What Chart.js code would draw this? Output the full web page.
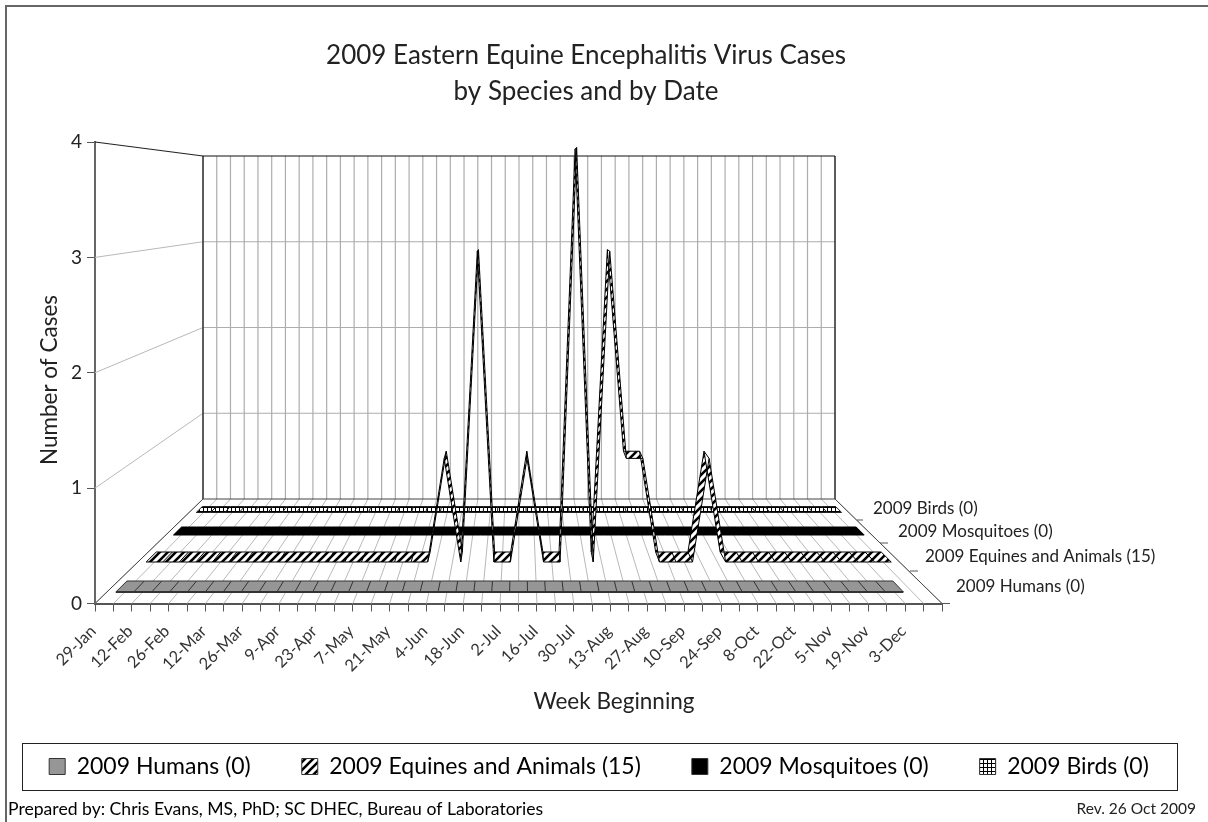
<!DOCTYPE html>
<html>
<head>
<meta charset="utf-8">
<title>2009 Eastern Equine Encephalitis Virus Cases</title>
<script src="https://cdn.jsdelivr.net/npm/chart.js@4/dist/chart.umd.js"></script>
<style>
  html, body { margin: 0; padding: 0; background: #fff; }
  canvas { display: block; }
</style>
</head>
<body>
<canvas id="grafico" width="1208" height="822"></canvas>
<script>
const weeks = ['29-Jan','5-Feb','12-Feb','19-Feb','26-Feb','5-Mar','12-Mar','19-Mar','26-Mar','2-Apr','9-Apr','16-Apr',
  '23-Apr','30-Apr','7-May','14-May','21-May','28-May','4-Jun','11-Jun','18-Jun','25-Jun','2-Jul','9-Jul','16-Jul',
  '23-Jul','30-Jul','6-Aug','13-Aug','20-Aug','27-Aug','3-Sep','10-Sep','17-Sep','24-Sep','1-Oct','8-Oct','15-Oct',
  '22-Oct','29-Oct','5-Nov','12-Nov','19-Nov','26-Nov','3-Dec','10-Dec'];

const humans = [0,0,0,0,0,0,0,0,0,0,0,0,0,0,0,0,0,0,0,0,0,0,0,0,0,0,0,0,0,0,0,0,0,0,0,0,0,0,0,0,0,0,0,0,0];
const equines = [0,0,0,0,0,0,0,0,0,0,0,0,0,0,0,0,0,0,1,0,3,0,0,1,0,0,4,0,3,1,1,0,0,0,1,0,0,0,0,0,0,0,0,0,0,0];
const mosquitoes = [0,0,0,0,0,0,0,0,0,0,0,0,0,0,0,0,0,0,0,0,0,0,0,0,0,0,0,0,0,0,0,0,0,0,0,0,0,0,0,0,0,0,0,0,0,0];
const birds = [0,0,0,0,0,0,0,0,0,0,0,0,0,0,0,0,0,0,0,0,0,0,0,0,0,0,0,0,0,0,0,0,0,0,0,0,0,0,0,0,0,0,0,0,0,0];

const seriesNames = ['2009 Humans (0)', '2009 Equines and Animals (15)', '2009 Mosquitoes (0)', '2009 Birds (0)'];
const yTicks = [0, 1, 2, 3, 4];

const FONT = 'Lato, "Open Sans", sans-serif';

// floor of the 3d box
const FRONT_Y = 603.5, BACK_Y = 499, TOP_FRONT = 142, TOP_BACK = 156;
const FRONT_L = 95, FRONT_R = 942, BACK_L = 203, BACK_R = 835;
const VANISH_Y = 196.4;

function floorLeft(y) { return FRONT_L + (FRONT_Y - y) * (BACK_L - FRONT_L) / (FRONT_Y - BACK_Y); }
function floorRight(y) { return FRONT_R - (FRONT_Y - y) * (FRONT_R - BACK_R) / (FRONT_Y - BACK_Y); }
function plotHeight(y) { return (FRONT_Y - TOP_FRONT) * (y - VANISH_Y) / (FRONT_Y - VANISH_Y); }

function makePattern(size, draw) {
  const c = document.createElement('canvas');
  c.width = c.height = size;
  const g = c.getContext('2d');
  g.fillStyle = '#fff';
  g.fillRect(0, 0, size, size);
  draw(g);
  return g.createPattern(c, 'repeat');
}

const hatch = makePattern(8, g => {
  g.strokeStyle = '#000';
  g.lineWidth = 2.6;
  g.beginPath();
  g.moveTo(-2, 10); g.lineTo(10, -2);
  g.moveTo(-6, 6); g.lineTo(6, -6);
  g.moveTo(2, 14); g.lineTo(14, 2);
  g.stroke();
});

const gridPattern = makePattern(4, g => {
  g.fillStyle = '#000';
  g.fillRect(0, 3, 4, 1);
  g.fillRect(3, 0, 1, 4);
});

const fills = ['#969696', hatch, '#000000', gridPattern];
const values = [humans, equines, mosquitoes, birds];
// y of the [front, back] edge of each ribbon on the floor
const edges = [[592, 581], [562, 552], [535, 527], [512.5, 506.5]];
const edgeColors = ['#333', '#000', '#000', '#222'];

const datasets = [];
const scales = {
  x: {
    type: 'category', position: 'bottom', offset: true,
    grid: { offset: true, drawOnChartArea: false, tickLength: 8, color: '#555' },
    border: { color: '#555', width: 2 },
    ticks: {
      autoSkip: false, minRotation: 45, maxRotation: 45, padding: 10, labelOffset: -11,
      color: '#333', font: { family: FONT, size: 16.5 },
      callback(v, i) { return i % 2 === 0 ? weeks[i] : ''; }
    }
  },
  y: {
    type: 'linear', position: 'left', min: 0, max: 4,
    afterBuildTicks(axis) { axis.ticks = yTicks.map(value => ({ value })); },
    grid: { drawOnChartArea: false, tickLength: 8, color: '#555' },
    border: { color: '#666', width: 2 },
    ticks: { padding: 5, color: '#222', font: { family: FONT, size: 19 } }
  },
  xWall: { type: 'category', position: 'bottom', offset: true, display: false },
  yWall: { type: 'linear', position: 'left', min: 0, max: 4, display: false }
};

seriesNames.forEach((name, i) => {
  ['Back', 'Front'].forEach(side => {
    const xId = 'x' + side + i, yId = 'y' + side + i;
    scales[xId] = { type: 'category', position: 'bottom', offset: true, display: false };
    scales[yId] = { type: 'linear', position: 'left', min: 0, max: 4, display: false };
    datasets.push({
      label: name,
      side,
      series: i,
      data: values[i],
      xAxisID: xId,
      yAxisID: yId,
      borderColor: edgeColors[i],
      borderWidth: side === 'Front' && i === 0 ? 2 : 1,
      backgroundColor: fills[i],
      fill: side === 'Front' ? '-1' : false,
      pointRadius: 0,
      tension: 0,
      clip: false
    });
  });
});

function place(scale, left, top, right, bottom) {
  scale.left = left; scale.top = top; scale.right = right; scale.bottom = bottom;
  scale.width = right - left; scale.height = bottom - top;
  scale.configure();
}

function line(ctx, x1, y1, x2, y2, color, width) {
  ctx.strokeStyle = color;
  ctx.lineWidth = width;
  ctx.beginPath();
  ctx.moveTo(x1, y1);
  ctx.lineTo(x2, y2);
  ctx.stroke();
}

function text(ctx, str, x, y, font, align, color) {
  ctx.font = font;
  ctx.textAlign = align || 'left';
  ctx.textBaseline = 'middle';
  ctx.fillStyle = color || '#222';
  ctx.fillText(str, x, y);
}

const box3d = {
  id: 'box3d',
  afterLayout(chart) {
    const s = chart.scales;
    chart.chartArea = { left: 0, top: 0, right: 1208, bottom: 822, width: 1208, height: 822 };
    place(s.x, FRONT_L, FRONT_Y, FRONT_R, 690);
    place(s.y, 0, TOP_FRONT, FRONT_L, FRONT_Y);
    place(s.xWall, BACK_L, BACK_Y, BACK_R, BACK_Y);
    place(s.yWall, 0, TOP_BACK, BACK_L, BACK_Y);
    edges.forEach((pair, i) => {
      ['Front', 'Back'].forEach((side, k) => {
        const y = pair[k];
        place(s['x' + side + i], floorLeft(y), y, floorRight(y), y);
        place(s['y' + side + i], 0, y - plotHeight(y), floorLeft(y), y);
      });
    });
    const t = chart.titleBlock;
    t.left = 0; t.right = 1172; t.width = 1172; t.top = 37; t.bottom = 110; t.height = 73;
    const l = chart.legend;
    l.left = -10; l.right = 1208; l.width = 1218; l.top = 755 - l.options.labels.padding; l.bottom = 790;
  },
  beforeDatasetsDraw(chart) {
    const { ctx, scales: s } = chart;
    ctx.save();
    // back wall
    weeks.concat('').forEach((w, i) => {
      const xb = s.xWall.getPixelForValue(i - 0.5);
      line(ctx, xb, TOP_BACK, xb, BACK_Y, '#adadad', 1.2);
      line(ctx, s.x.getPixelForValue(i - 0.5), FRONT_Y, xb, BACK_Y, '#b8b8b8', 1);
    });
    yTicks.forEach(v => {
      const yb = s.yWall.getPixelForValue(v);
      if (v > 0 && v < 4) line(ctx, BACK_L, yb, BACK_R, yb, '#adadad', 1.2);
      if (v > 0 && v < 4) line(ctx, FRONT_L, s.y.getPixelForValue(v), BACK_L, yb, '#b8b8b8', 1);
    });
    // box edges
    line(ctx, FRONT_L, TOP_FRONT, BACK_L, TOP_BACK, '#222', 1.2);
    line(ctx, BACK_L, TOP_BACK, BACK_R, TOP_BACK, '#111', 1.2);
    line(ctx, BACK_L, TOP_BACK, BACK_L, BACK_Y, '#111', 1.2);
    line(ctx, BACK_R, TOP_BACK, BACK_R, BACK_Y, '#111', 1.2);
    line(ctx, BACK_L, BACK_Y, BACK_R, BACK_Y, '#444', 1.2);
    line(ctx, FRONT_L, FRONT_Y, BACK_L, BACK_Y, '#444', 1);
    line(ctx, FRONT_R, FRONT_Y, BACK_R, BACK_Y, '#444', 1);
    // depth axis ticks
    [[857, 863, 520], [880, 888, 543], [910, 918, 571], [942, 950, 603.5]].forEach(t => {
      line(ctx, t[0], t[2], t[1], t[2], '#555', 1);
    });
    ctx.restore();
  },
  beforeDatasetDraw(chart, args) {
    const ds = chart.data.datasets[args.index];
    if (ds.side !== 'Front') return;
    // the filler clips to the narrower back edge, so the slanted ends go in here
    const { ctx } = chart;
    const front = args.meta.data;
    const back = chart.getDatasetMeta(args.index - 1).data;
    const n = front.length - 1;
    ctx.save();
    ctx.fillStyle = ds.backgroundColor;
    [[0, 1], [n - 1, n]].forEach(([a, b]) => {
      ctx.beginPath();
      ctx.moveTo(front[a].x, front[a].y);
      ctx.lineTo(front[b].x, front[b].y);
      ctx.lineTo(back[b].x, back[b].y);
      ctx.lineTo(back[a].x, back[a].y);
      ctx.closePath();
      ctx.fill();
    });
    ctx.restore();
  },
  afterDatasetDraw(chart, args) {
    const ds = chart.data.datasets[args.index];
    if (ds.side !== 'Front') return;
    const { ctx } = chart;
    const front = args.meta.data;
    const back = chart.getDatasetMeta(args.index - 1).data;
    ctx.save();
    front.forEach((p, i) => line(ctx, p.x, p.y, back[i].x, back[i].y, edgeColors[ds.series], 1));
    ctx.restore();
  },
  afterDraw(chart) {
    const { ctx } = chart;
    ctx.save();
    line(ctx, 5, 6, 1208, 6, '#666', 2);
    line(ctx, 6, 5, 6, 822, '#666', 2);
    ctx.strokeStyle = '#222';
    ctx.lineWidth = 1;
    ctx.strokeRect(22.5, 743.5, 1155, 47);
    text(ctx, 'Week Beginning', 614, 702, '22.5px ' + FONT, 'center');
    ctx.translate(50, 380);
    ctx.rotate(-Math.PI / 2);
    text(ctx, 'Number of Cases', 0, 0, '22.5px ' + FONT, 'center');
    ctx.setTransform(1, 0, 0, 1, 0, 0);
    text(ctx, seriesNames[3], 873, 509, '17px ' + FONT);
    text(ctx, seriesNames[2], 898, 532, '17px ' + FONT);
    text(ctx, seriesNames[1], 925, 557, '17px ' + FONT);
    text(ctx, seriesNames[0], 956, 587, '17px ' + FONT);
    text(ctx, 'Prepared by: Chris Evans, MS, PhD; SC DHEC, Bureau of Laboratories', 8, 809, '17.6px ' + FONT, 'left', '#000');
    text(ctx, 'Rev. 26 Oct 2009', 1196, 809, '15.5px ' + FONT, 'right', '#222');
    ctx.restore();
  }
};

new Chart(document.getElementById('grafico'), {
  type: 'line',
  data: { labels: weeks, datasets },
  options: {
    responsive: false,
    animation: false,
    events: [],
    scales,
    plugins: {
      tooltip: { enabled: false },
      title: {
        display: true,
        text: ['2009 Eastern Equine Encephalitis Virus Cases', 'by Species and by Date'],
        color: '#222',
        padding: 0,
        font: { family: FONT, size: 26, weight: 'normal', lineHeight: 1.4 }
      },
      legend: {
        position: 'bottom',
        labels: {
          boxWidth: 16, boxHeight: 16, padding: 51, color: '#222',
          font: { family: FONT, size: 23 },
          generateLabels() {
            return seriesNames.map((name, i) => ({
              text: name, fillStyle: fills[i], strokeStyle: '#333', lineWidth: 1, hidden: false, datasetIndex: i * 2
            }));
          }
        }
      }
    }
  },
  plugins: [box3d]
});
</script>
</body>
</html>
